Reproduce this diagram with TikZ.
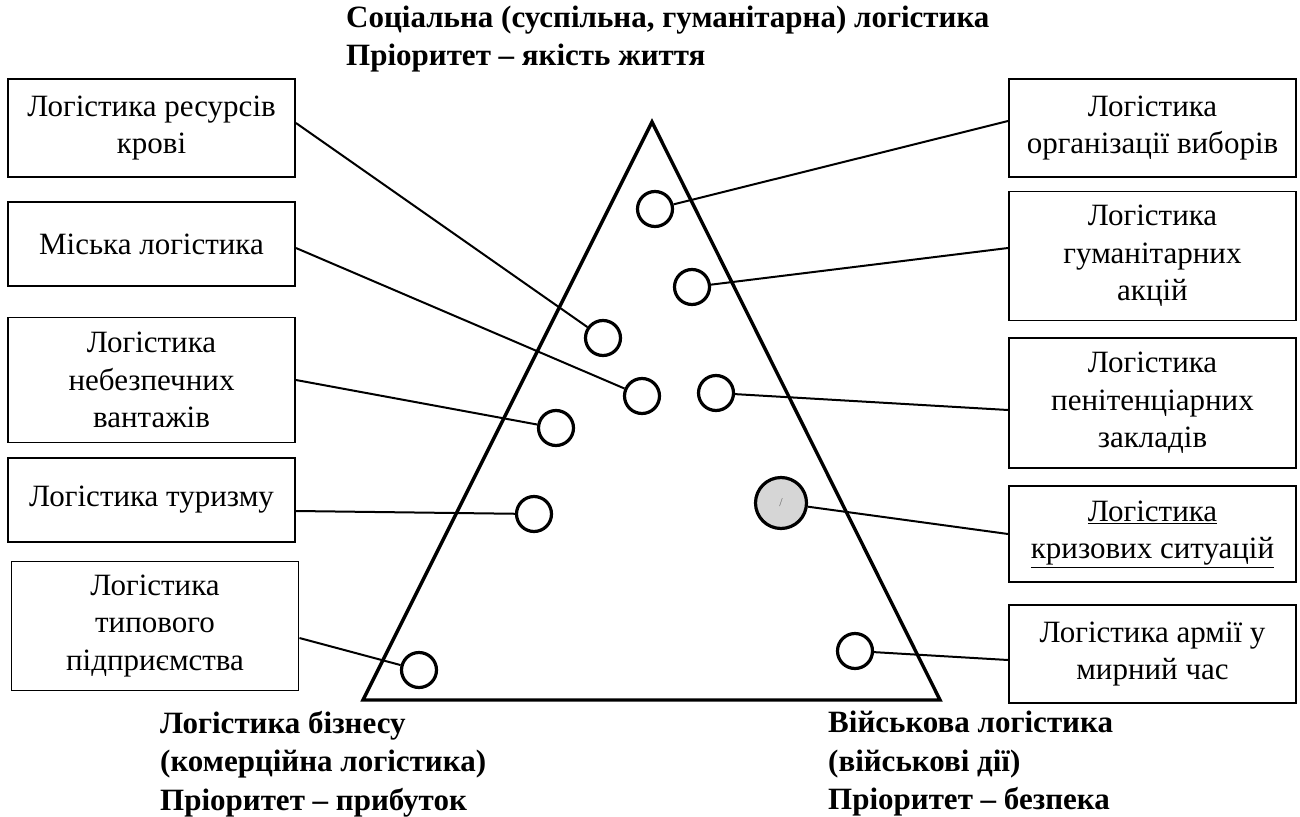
\documentclass[tikz,border=0pt]{standalone}
\usepackage{fontspec}
\setmainfont{Liberation Serif}
\begin{document}
\begin{tikzpicture}[x=1pt,y=-1pt,
  box/.style={draw, line width=1.9pt, align=center, inner sep=0pt,
    font=\fontsize{31}{37.5}\selectfont, minimum width=287pt},
  dot/.style={circle, draw, line width=3.2pt, minimum size=35pt, inner sep=0pt},
  conn/.style={line width=2pt},
  head/.style={align=left, anchor=west, inner sep=0pt,
    font=\bfseries\fontsize{31}{38.5}\selectfont}]
\useasboundingbox (0,0) rectangle (1300,816);
% triangle
\coordinate (tA) at (652,122);
\coordinate (tB) at (363,700);
\coordinate (tC) at (940,700);
\draw[line width=3.4pt, line join=miter] (tA) -- (tB) -- (tC) -- cycle;
% headings
\node[head] (h1) at (346,39) {Соціальна (суспільна, гуманітарна) логістика\\Пріоритет – якість життя};
\node[head] (h2) at (160,764) {Логістика бізнесу\\(комерційна логістика)\\Пріоритет – прибуток};
\node[head] (h3) at (828,764) {Військова логістика\\(військові дії)\\Пріоритет – безпека};
% left boxes
\node[box, minimum height=98pt] (b1) at (151.5,128) {Логістика ресурсів\\крові};
\node[box, minimum height=84pt] (b2) at (151.5,244) {Міська логістика};
\node[box, minimum height=125pt] (b3) at (151.5,380) {Логістика\\небезпечних\\вантажів};
\node[box, minimum height=84pt] (b4) at (151.5,500) {Логістика туризму};
\node[box, minimum height=129pt] (b5) at (155,626) {Логістика\\типового\\підприємства};
% right boxes
\node[box, minimum height=98pt] (r1) at (1152.5,128) {Логістика\\організації виборів};
\node[box, minimum height=129pt] (r2) at (1152.5,256) {Логістика\\гуманітарних\\акцій};
\node[box, minimum height=130pt] (r3) at (1152.5,403) {Логістика\\пенітенціарних\\закладів};
\node[box, minimum height=96pt] (r4) at (1152.5,534) {\underline{Логістика}\\\underline{кризових ситуацій}};
\node[box, minimum height=98pt] (r5) at (1152.5,654) {Логістика армії у\\мирний час};
% circles
\node[dot] (c1) at (655,209) {};
\node[dot] (c2) at (692,287) {};
\node[dot] (c3) at (603,338) {};
\node[dot] (c4) at (642,396) {};
\node[dot] (c5) at (716,393) {};
\node[dot] (c6) at (556,428) {};
\node[dot] (c7) at (534,514) {};
\node[dot] (c8) at (419,670) {};
\node[dot] (c9) at (855,651) {};
\node[dot, fill=black!16, minimum size=51pt, font=\fontsize{12}{12}\selectfont, text=black!60] (cg) at (781,503) {/};
% connectors
\draw[conn] ([yshift=5pt]b1.east) -- (c3);
\draw[conn] ([yshift=-4pt]b2.east) -- (c4);
\draw[conn] (b3.east) -- (c6);
\draw[conn] ([yshift=-11pt]b4.east) -- (c7);
\draw[conn] ([yshift=-12pt]b5.east) -- (c8);
\draw[conn] ([yshift=7pt]r1.west) -- (c1);
\draw[conn] ([yshift=8pt]r2.west) -- (c2);
\draw[conn] ([yshift=-7pt]r3.west) -- (c5);
\draw[conn] (r4.west) -- (cg);
\draw[conn] ([yshift=-6pt]r5.west) -- (c9);
\end{tikzpicture}
\end{document}
